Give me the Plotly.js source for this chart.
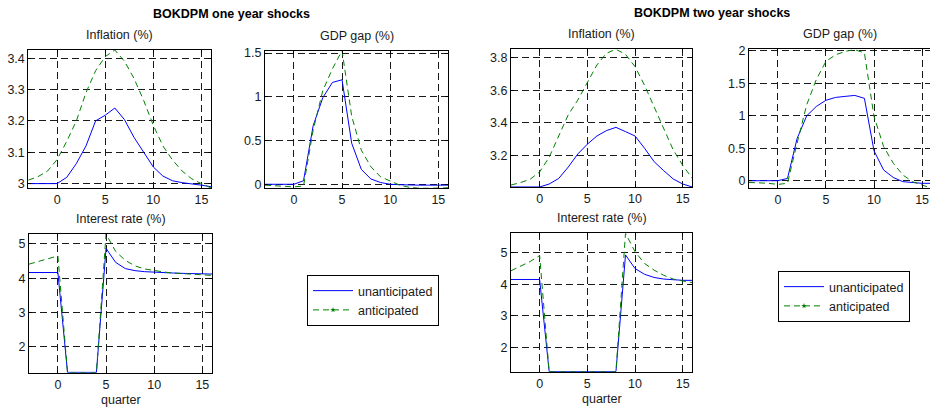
<!DOCTYPE html>
<html>
<head>
<meta charset="utf-8">
<script src="https://cdn.plot.ly/plotly-3.0.1.min.js"></script>
<style>
  html, body { margin: 0; padding: 0; background: #ffffff; }
  #chart { width: 930px; height: 408px; }
</style>
</head>
<body>
<div id="chart"></div>
<script>
// Quarters relative to the shock
const quarters = [-3, -2, -1, 0, 1, 2, 3, 4, 5, 6, 7, 8, 9, 10, 11, 12, 13, 14, 15, 16];

// One-year shocks
const oneInflUnant = [3.0, 3.0, 3.0, 3.0, 3.02, 3.064, 3.12, 3.2, 3.218, 3.241, 3.204, 3.147, 3.10, 3.053, 3.024, 3.009, 3.003, 3.0, 2.995, 2.99];
const oneInflAnt   = [3.011, 3.022, 3.04, 3.077, 3.135, 3.2, 3.29, 3.36, 3.405, 3.426, 3.39, 3.335, 3.265, 3.186, 3.12, 3.075, 3.04, 3.015, 3.0, 2.986];
const oneGdpUnant  = [0.0, 0.0, 0.0, 0.0, 0.04, 0.67, 0.99, 1.165, 1.195, 0.47, 0.17, 0.06, 0.02, 0.0, -0.005, -0.01, -0.01, -0.01, -0.01, -0.01];
const oneGdpAnt    = [-0.01, -0.015, -0.02, -0.03, -0.02, 0.62, 1.07, 1.32, 1.53, 0.78, 0.39, 0.2, 0.085, 0.035, -0.01, -0.035, -0.045, -0.046, -0.044, -0.04];
const oneRateUnant = [4.165, 4.165, 4.165, 4.165, 1.25, 1.25, 1.25, 1.25, 4.87, 4.46, 4.28, 4.22, 4.19, 4.17, 4.16, 4.15, 4.14, 4.13, 4.125, 4.12];
const oneRateAnt   = [4.41, 4.49, 4.57, 4.65, 1.24, 1.24, 1.24, 1.24, 5.29, 4.78, 4.52, 4.36, 4.27, 4.22, 4.18, 4.15, 4.13, 4.11, 4.10, 4.08];

// Two-year shocks
const twoInflUnant = [3.008, 3.008, 3.008, 3.008, 3.026, 3.06, 3.13, 3.21, 3.27, 3.32, 3.353, 3.373, 3.347, 3.32, 3.245, 3.163, 3.108, 3.057, 3.026, 3.008];
const twoInflAnt   = [3.02, 3.035, 3.055, 3.10, 3.19, 3.316, 3.45, 3.54, 3.645, 3.755, 3.827, 3.851, 3.82, 3.745, 3.63, 3.50, 3.36, 3.235, 3.14, 3.06];
const twoGdpUnant  = [0.0, 0.0, 0.0, 0.0, 0.035, 0.65, 1.0, 1.145, 1.24, 1.284, 1.30, 1.315, 1.27, 0.46, 0.165, 0.05, -0.015, -0.03, -0.04, -0.04];
const twoGdpAnt    = [-0.026, -0.03, -0.04, -0.057, -0.04, 0.58, 1.17, 1.56, 1.84, 1.94, 1.995, 2.02, 1.97, 0.99, 0.526, 0.27, 0.088, -0.015, -0.07, -0.117];
const twoRateUnant = [4.147, 4.147, 4.147, 4.147, 1.25, 1.25, 1.25, 1.25, 1.25, 1.25, 1.25, 1.25, 4.92, 4.49, 4.31, 4.21, 4.16, 4.13, 4.12, 4.12];
const twoRateAnt   = [4.42, 4.57, 4.71, 4.90, 1.245, 1.245, 1.245, 1.245, 1.245, 1.245, 1.245, 1.245, 5.6, 5.02, 4.65, 4.44, 4.28, 4.16, 4.10, 4.05];

// Tick labels
const xTicks = [0, 5, 10, 15];
const xTickText = ['0', '5', '10', '15'];
const oneInflTicks = [3.0, 3.1, 3.2, 3.3, 3.4];
const oneInflTickText = ['3', '3.1', '3.2', '3.3', '3.4'];
const oneGdpTicks = [0, 0.5, 1, 1.5];
const oneGdpTickText = ['0', '0.5', '1', '1.5'];
const rateTicks = [2, 3, 4, 5];
const rateTickText = ['2', '3', '4', '5'];
const twoInflTicks = [3.2, 3.4, 3.6, 3.8];
const twoInflTickText = ['3.2', '3.4', '3.6', '3.8'];
const twoGdpTicks = [0, 0.5, 1, 1.5, 2];
const twoGdpTickText = ['0', '0.5', '1', '1.5', '2'];

// Labels
const seriesNames = ['unanticipated', 'anticipated'];
const groupTitles = ['BOKDPM one year shocks', 'BOKDPM two year shocks'];
const panelTitles = ['Inflation (%)', 'GDP gap (%)', 'Interest rate (%)', 'Inflation (%)', 'GDP gap (%)', 'Interest rate (%)'];
const xLabel = 'quarter';

const W = 930, H = 408;
const FONT = 'Liberation Sans, Arial, sans-serif';
const TXT = '#1a1a1a';
const BLUE = '#0000ff';
const GREEN = '#008000';
const GREEN_DASH = '6px,4px';

// Panel frames in pixels: [left, right, top, bottom]
const frames = [
  [28.3, 211, 50, 188.3],
  [265, 448, 50.5, 188.3],
  [29, 212, 234, 372.7],
  [511, 692.3, 49.3, 187.3],
  [749, 930, 49.3, 188.3],
  [511, 692.3, 233.3, 371.7]
];
const xRanges = [[-3, 16], [-3, 16], [-3, 16], [-3, 16], [-3, 15.82], [-3, 16]];
const yRanges = [[2.985, 3.426], [-0.046, 1.53], [1.24, 5.29], [3.006, 3.851], [-0.117, 2.026], [1.245, 5.6]];
const yTickVals = [oneInflTicks, oneGdpTicks, rateTicks, twoInflTicks, twoGdpTicks, rateTicks];
const yTickTexts = [oneInflTickText, oneGdpTickText, rateTickText, twoInflTickText, twoGdpTickText, rateTickText];

const panelSeries = [
  [oneInflUnant, oneInflAnt],
  [oneGdpUnant, oneGdpAnt],
  [oneRateUnant, oneRateAnt],
  [twoInflUnant, twoInflAnt],
  [twoGdpUnant, twoGdpAnt],
  [twoRateUnant, twoRateAnt]
];

const legendBox = {
  bgcolor: '#ffffff', bordercolor: '#000000', borderwidth: 1,
  font: {family: FONT, size: 12.5, color: TXT},
  traceorder: 'normal', tracegroupgap: 0, itemwidth: 40,
  xanchor: 'left', yanchor: 'top'
};

const traces = [];
const layout = {
  width: W, height: H,
  margin: {l: 0, r: 0, t: 0, b: 0},
  paper_bgcolor: '#ffffff',
  plot_bgcolor: '#ffffff',
  font: {family: FONT, size: 12.5, color: TXT},
  showlegend: true,
  annotations: [],
  legend: Object.assign({x: 307 / W, y: 1 - 275 / H}, legendBox),
  legend2: Object.assign({x: 778 / W, y: 1 - 271 / H}, legendBox)
};

frames.forEach((f, i) => {
  const n = i + 1;
  const xa = n === 1 ? 'xaxis' : 'xaxis' + n;
  const ya = n === 1 ? 'yaxis' : 'yaxis' + n;
  const xr = n === 1 ? 'x' : 'x' + n;
  const yr = n === 1 ? 'y' : 'y' + n;
  const xd = [f[0] / W, Math.min(1, f[1] / W)];
  const yd = [1 - f[3] / H, 1 - f[2] / H];
  const common = {
    showline: true, linecolor: '#000000', linewidth: 1,
    ticks: 'inside', ticklen: 3, tickcolor: '#000000', tickwidth: 1,
    showgrid: true, gridcolor: '#1a1a1a', gridwidth: 1, griddash: '7px,4px',
    zeroline: false, automargin: false,
    tickfont: {family: FONT, size: 12.5, color: TXT}
  };
  layout[xa] = Object.assign({}, common, {
    domain: xd, range: xRanges[i], anchor: yr, mirror: 'ticks',
    tickmode: 'array', tickvals: xTicks, ticktext: xTickText
  });
  layout[ya] = Object.assign({}, common, {
    domain: yd, range: yRanges[i], anchor: xr, mirror: n === 5 ? false : 'ticks',
    tickmode: 'array', tickvals: yTickVals[i], ticktext: yTickTexts[i]
  });

  traces.push({
    x: quarters, y: panelSeries[i][0], xaxis: xr, yaxis: yr,
    type: 'scatter', mode: 'lines', name: seriesNames[0],
    line: {color: BLUE, width: 1},
    legend: i < 3 ? 'legend' : 'legend2', showlegend: (i === 0 || i === 3)
  });
  traces.push({
    x: quarters, y: panelSeries[i][1], xaxis: xr, yaxis: yr,
    type: 'scatter', mode: 'lines', name: seriesNames[1],
    line: {color: GREEN, width: 1, dash: GREEN_DASH},
    showlegend: false
  });

  // panel title above the frame
  layout.annotations.push({
    text: panelTitles[i], xref: 'paper', yref: 'paper',
    x: (f[0] + f[1]) / 2 / W, y: 1 - (f[2] - 15) / H,
    xanchor: 'center', yanchor: 'middle', showarrow: false,
    font: {family: FONT, size: 12.5, color: TXT}
  });
  // x-axis label on the bottom row
  if (n === 3 || n === 6) {
    layout.annotations.push({
      text: xLabel, xref: 'paper', yref: 'paper',
      x: (f[0] + f[1]) / 2 / W, y: 1 - (f[3] + 27.5) / H,
      xanchor: 'center', yanchor: 'middle', showarrow: false,
      font: {family: FONT, size: 12.5, color: TXT}
    });
  }
});

// Legend keys for the dashed series (line with a point marker, as in the key style)
['legend', 'legend2'].forEach((lg, k) => {
  traces.push({
    x: [null], y: [null], xaxis: k === 0 ? 'x' : 'x4', yaxis: k === 0 ? 'y' : 'y4',
    type: 'scatter', mode: 'lines+markers', name: seriesNames[1],
    line: {color: GREEN, width: 1, dash: GREEN_DASH},
    marker: {color: GREEN, size: 4, symbol: 'star'},
    legend: lg, showlegend: true
  });
});

// group titles
layout.annotations.push({
  text: '<b>' + groupTitles[0] + '</b>', xref: 'paper', yref: 'paper',
  x: 231 / W, y: 1 - 14 / H, xanchor: 'center', yanchor: 'middle', showarrow: false,
  font: {family: FONT, size: 12.5, color: '#000000'}
});
layout.annotations.push({
  text: '<b>' + groupTitles[1] + '</b>', xref: 'paper', yref: 'paper',
  x: 712 / W, y: 1 - 13 / H, xanchor: 'center', yanchor: 'middle', showarrow: false,
  font: {family: FONT, size: 12.5, color: '#000000'}
});

Plotly.newPlot('chart', traces, layout, {staticPlot: true, displayModeBar: false});
</script>
</body>
</html>
